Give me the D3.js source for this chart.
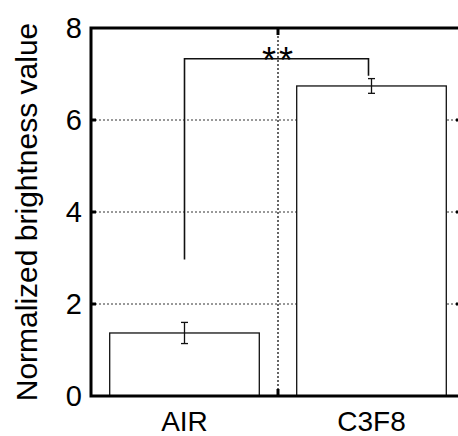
<!DOCTYPE html>
<html><head><meta charset="utf-8">
<script src="https://cdn.jsdelivr.net/npm/d3@7"></script>
<style>html,body{margin:0;padding:0;background:#fff;}svg{display:block;}</style>
</head><body>
<svg id="chart" width="458" height="436"></svg>
<script>
const categories = ["AIR", "C3F8"];
const values = [1.37, 6.74];
const errors = [0.23, 0.16];
const yTicks = [0, 2, 4, 6, 8];
const yLabel = "Normalized brightness value";
const sigLabel = "**";
const bracketLevels = [2.97, 7.33, 6.96]; // left start, top, right end

const svg = d3.select("#chart");
const m = {left: 91, top: 28, right: -7, bottom: 40};
const W = 458, H = 436;
const x = d3.scaleBand().domain(categories).range([m.left, W - m.right]).paddingInner(0.2).paddingOuter(0.1);
const y = d3.scaleLinear().domain([0, 8]).range([H - m.bottom, m.top]);
const font = "'Liberation Sans', Arial, sans-serif";

const g = svg.append("g");
// grid
g.selectAll(".grid").data(yTicks.filter(t => t > 0 && t < 8)).join("line")
  .attr("x1", m.left).attr("x2", W - m.right)
  .attr("y1", d => y(d)).attr("y2", d => y(d))
  .attr("stroke", "#333").attr("stroke-width", 1).attr("stroke-dasharray", "2,2");
// category boundary
const boundary = (x(categories[0]) + x.bandwidth()/2 + x(categories[1]) + x.bandwidth()/2) / 2;
g.append("line").attr("x1", boundary).attr("x2", boundary).attr("y1", y(8)).attr("y2", y(0))
  .attr("stroke", "#333").attr("stroke-width", 1.5).attr("stroke-dasharray", "2,2");

// bars
g.selectAll(".bar").data(values).join("rect")
  .attr("x", (d, i) => x(categories[i])).attr("width", x.bandwidth())
  .attr("y", d => y(d)).attr("height", d => y(0) - y(d))
  .attr("fill", "#fff").attr("stroke", "#111").attr("stroke-width", 1.3);

// error bars
values.forEach((v, i) => {
  const cx = x(categories[i]) + x.bandwidth() / 2;
  const e = g.append("g").attr("stroke", "#111").attr("stroke-width", 1.3);
  e.append("line").attr("x1", cx).attr("x2", cx).attr("y1", y(v - errors[i])).attr("y2", y(v + errors[i]));
  [v - errors[i], v + errors[i]].forEach(t => e.append("line").attr("x1", cx - 3.5).attr("x2", cx + 3.5).attr("y1", y(t)).attr("y2", y(t)));
});

// bracket
const cx0 = x(categories[0]) + x.bandwidth() / 2;
const cx1 = x(categories[1]) + x.bandwidth() / 2 - 3;
g.append("path")
  .attr("d", d3.line()([[cx0, y(bracketLevels[0])], [cx0, y(bracketLevels[1])], [cx1, y(bracketLevels[1])], [cx1, y(bracketLevels[2])]]))
  .attr("fill", "none").attr("stroke", "#111").attr("stroke-width", 1.6);
g.append("text").attr("x", boundary + 1).attr("y", y(bracketLevels[1]) + 14)
  .attr("text-anchor", "middle").attr("font-family", font).attr("font-size", 36)
  .attr("letter-spacing", 3).text(sigLabel);

// frame
g.append("path").attr("d", `M${W - m.right},${y(8)}H${m.left}V${y(0)}H${W - m.right}`)
  .attr("fill", "none").attr("stroke", "#000").attr("stroke-width", 3);

// y ticks inward
g.selectAll(".ytick").data(yTicks.filter(t => t > 0 && t < 8)).join("line")
  .attr("x1", m.left).attr("x2", m.left + 5).attr("y1", d => y(d)).attr("y2", d => y(d))
  .attr("stroke", "#000").attr("stroke-width", 3);
g.selectAll(".ytickR").data(yTicks.filter(t => t > 0 && t < 8)).join("line")
  .attr("x1", W - m.right - 9).attr("x2", W - m.right).attr("y1", d => y(d)).attr("y2", d => y(d))
  .attr("stroke", "#000").attr("stroke-width", 3);
// boundary ticks
[[y(8), y(8) + 7], [y(0) - 7, y(0)]].forEach(([a, b]) =>
  g.append("line").attr("x1", boundary).attr("x2", boundary).attr("y1", a).attr("y2", b)
   .attr("stroke", "#000").attr("stroke-width", 3));

// y tick labels
g.selectAll(".ylab").data(yTicks).join("text")
  .attr("x", 82).attr("y", d => y(d)).attr("dy", "0.36em")
  .attr("text-anchor", "end").attr("font-family", font).attr("font-size", 29).attr("fill", "#000")
  .text(d => d);

// x labels
g.selectAll(".xlab").data(categories).join("text")
  .attr("x", d => x(d) + x.bandwidth() / 2).attr("y", 431)
  .attr("text-anchor", "middle").attr("font-family", font).attr("font-size", 28).attr("fill", "#000")
  .text(d => d);

// y axis label
g.append("text").attr("transform", `translate(37,${(y(0) + y(8)) / 2}) rotate(-90)`)
  .attr("text-anchor", "middle").attr("font-family", font).attr("font-size", 30).attr("fill", "#000")
  .text(yLabel);
</script>
</body></html>
